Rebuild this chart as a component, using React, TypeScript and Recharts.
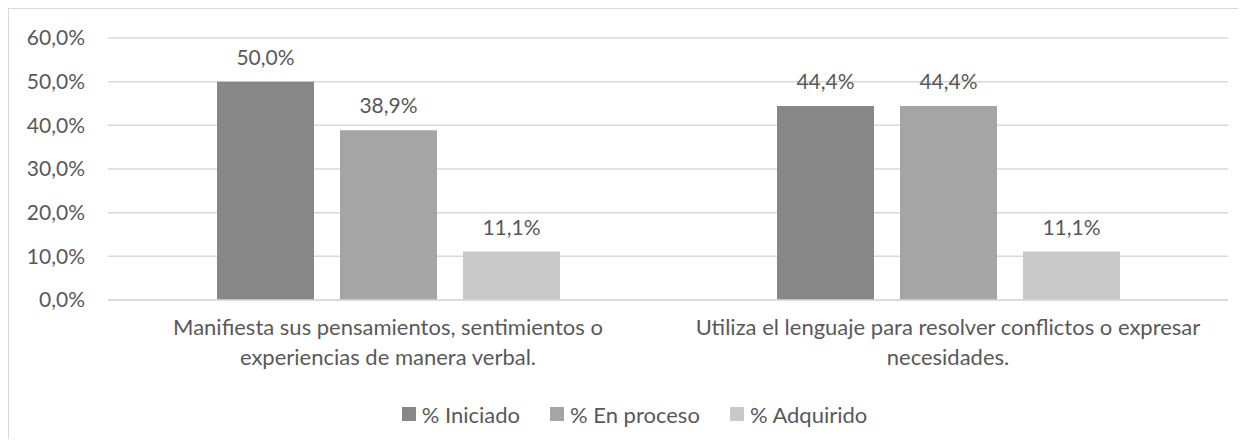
import React from 'react'
import { BarChart, Bar, XAxis, YAxis, CartesianGrid, Legend, LabelList } from 'recharts'

const categories = [
  'Manifiesta sus pensamientos, sentimientos o\nexperiencias de manera verbal.',
  'Utiliza el lenguaje para resolver conflictos o expresar\nnecesidades.',
]
const seriesNames = ['% Iniciado', '% En proceso', '% Adquirido']
const iniciado = [0.5, 0.444]
const enProceso = [0.389, 0.444]
const adquirido = [0.111, 0.111]
const yTicks = [0, 0.1, 0.2, 0.3, 0.4, 0.5, 0.6]

const data = categories.map((name, i) => ({
  name,
  iniciado: iniciado[i],
  enProceso: enProceso[i],
  adquirido: adquirido[i],
}))

const COLORS = ['#878787', '#a5a5a5', '#c9c9c9']
const FONT = 'Lato, "Open Sans", sans-serif'
const TEXT = '#595959'

const pct = (v: number) => (v * 100).toFixed(1).replace('.', ',') + '%'

const CategoryTick = (props: any) => {
  const { x, y, payload } = props
  const lines = String(payload.value).split('\n')
  return (
    <text x={x} y={y} textAnchor="middle" fill={TEXT} fontSize={22} fontFamily={FONT}>
      {lines.map((l, i) => (
        <tspan key={i} x={x} dy={i === 0 ? 27 : 30}>
          {l}
        </tspan>
      ))}
    </text>
  )
}

// legend is drawn by hand so the order stays as in the source
const LegendContent = () => (
  <div
    style={{
      display: 'flex',
      justifyContent: 'center',
      alignItems: 'center',
      height: 30,
      paddingLeft: 32,
      fontFamily: FONT,
      fontSize: 22,
      color: TEXT,
      gap: 30,
    }}
  >
    {seriesNames.map((n, i) => (
      <div key={n} style={{ display: 'flex', alignItems: 'center' }}>
        <span style={{ width: 14, height: 14, background: COLORS[i], marginRight: 6, display: 'inline-block' }} />
        <span>{n}</span>
      </div>
    ))}
  </div>
)

const labelProps = { position: 'top' as const, offset: 17, formatter: pct as any, fill: TEXT, fontSize: 21, fontFamily: FONT }

const App = () => (
  <div
    style={{
      width: 1237,
      height: 430,
      borderTop: '1px solid #d9d9d9',
      borderLeft: '1px solid #d9d9d9',
      fontFamily: FONT,
      overflow: 'hidden',
    }}
  >
    <BarChart
      width={1237}
      height={429}
      data={data}
      margin={{ top: 29, right: 18, bottom: 9, left: 0 }}
      barSize={97}
      barGap={26}
    >
      <CartesianGrid vertical={false} stroke="#d9d9d9" strokeWidth={1.5} />
      <XAxis
        dataKey="name"
        axisLine={{ stroke: '#d9d9d9', strokeWidth: 1.5 }}
        tickLine={false}
        tick={<CategoryTick />}
        height={99}
        interval={0}
      />
      <YAxis
        domain={[0, 0.6]}
        ticks={yTicks}
        tickFormatter={pct}
        axisLine={false}
        tickLine={false}
        tickSize={0}
        tickMargin={23}
        width={99}
        tick={{ fill: TEXT, fontSize: 21, fontFamily: FONT }}
      />
      <Legend verticalAlign="bottom" height={30} content={<LegendContent />} />
      <Bar dataKey="iniciado" name={seriesNames[0]} fill={COLORS[0]} isAnimationActive={false}>
        <LabelList dataKey="iniciado" {...labelProps} />
      </Bar>
      <Bar dataKey="enProceso" name={seriesNames[1]} fill={COLORS[1]} isAnimationActive={false}>
        <LabelList dataKey="enProceso" {...labelProps} />
      </Bar>
      <Bar dataKey="adquirido" name={seriesNames[2]} fill={COLORS[2]} isAnimationActive={false}>
        <LabelList dataKey="adquirido" {...labelProps} />
      </Bar>
    </BarChart>
  </div>
)

export default App
